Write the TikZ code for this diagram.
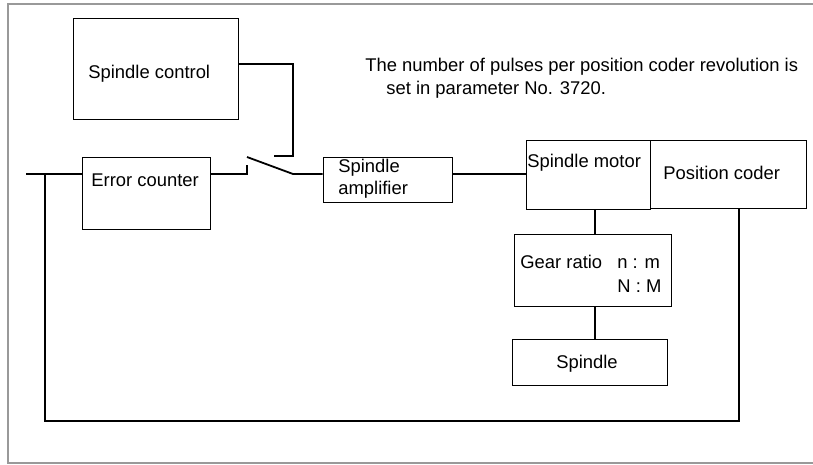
\documentclass[tikz,border=0pt]{standalone}
\usepackage{fontspec}
\setmainfont{Liberation Sans}
\usetikzlibrary{positioning}
\definecolor{fGray}{HTML}{999999}

\begin{document}
\begin{tikzpicture}[x=0.5pt, y=-0.5pt,
    blk/.style={draw, line width=0.5pt, inner sep=0pt},
    txt/.style={inner sep=0pt, font=\fontsize{9.2}{11}\selectfont},
    wire/.style={line width=0.9pt}]
  \useasboundingbox (0,0) rectangle (813,465);
  % outer frame
  \draw[fGray, line width=0.6pt] (820,4) -- (8,4) -- (8,463) -- (820,463);

  % blocks
  \node[blk, minimum width=82.5pt, minimum height=50.5pt] (ctrl) at (155.5,69.5) {};
  \node[txt, anchor=base west] at (88,78.5) {Spindle control};
  \node[blk, minimum width=64pt, minimum height=36pt] (err) at (146,193) {};
  \node[txt, anchor=base west] at (91,186.5) {Error counter};
  \node[blk, minimum width=64.5pt, minimum height=22.5pt] (amp) at (387.5,179.5) {};
  \node[txt, anchor=base west] at (338,172.5) {Spindle};
  \node[txt, anchor=base west] at (338,194.5) {amplifier};
  \node[blk, minimum width=62pt, minimum height=34.5pt] (motor) at (588,174.5) {};
  \node[txt, anchor=base west] at (527,167.5) {Spindle motor};
  \node[blk, minimum width=78pt, minimum height=34pt] (coder) at (728,174) {};
  \node[txt, anchor=base west] at (663,179.5) {Position coder};
  \node[blk, minimum width=78.5pt, minimum height=36pt] (gear) at (592.5,270) {};
  \node[txt, anchor=base west] at (520,268.5) {Gear ratio};
  \node[txt, anchor=base west] at (617,268.5) {n : m};
  \node[txt, anchor=base west] at (617,292.5) {N : M};
  \node[blk, minimum width=77.5pt, minimum height=23pt] (spin) at (589.5,362) {};
  \node[txt, anchor=base] at (587,368.5) {Spindle};

  % note on the pulse count
  \node[txt, anchor=base west] (note) at (365,71.5) {The number of pulses per position coder revolution is};
  \node[txt, anchor=base west] at (386,94.5) {set in parameter No. 3720.};

  % switch points
  \coordinate (in) at (26,174);
  \coordinate (tap) at (45,174);
  \coordinate (fb) at (739,421);
  \coordinate (swL) at (247,174);
  \coordinate (swP) at (247,157);
  \coordinate (swR) at (293,174);
  \coordinate (swC) at (274,156);
  \coordinate (shaft) at (595,0);

  % wiring
  \draw[wire] (in) -- (err.west |- in);
  \draw[wire] (tap) |- (fb) -- (fb |- coder.south);
  \draw[wire] (err.east |- in) -- (swL) -- ++(0,-9);
  \draw[wire] (swP) -- (swR) -- (amp.west |- swR);
  \draw[wire] (ctrl.east |- 0,64) -| (swR |- swC) -- (swC);
  \draw[wire] (amp.east |- swR) -- (motor.west |- swR);
  \draw[wire] (motor.south -| shaft) -- (gear.north -| shaft);
  \draw[wire] (gear.south -| shaft) -- (spin.north -| shaft);
\end{tikzpicture}
\end{document}
